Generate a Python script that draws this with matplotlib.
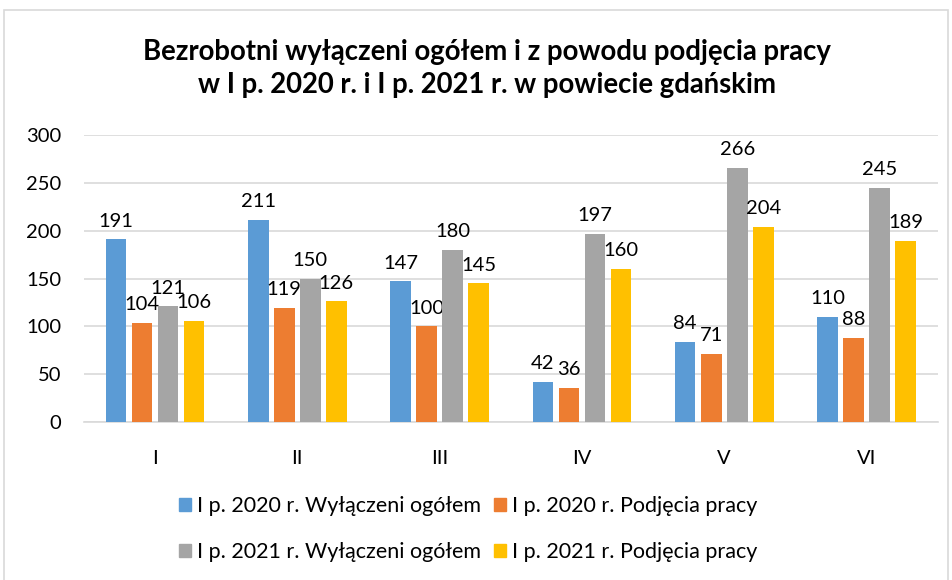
import numpy as np
import matplotlib
matplotlib.use('Agg')
import matplotlib.pyplot as plt
from matplotlib.patches import Rectangle, Patch

plt.rcParams['font.family'] = ['Lato', 'DejaVu Sans']

months = ['I', 'II', 'III', 'IV', 'V', 'VI']
wyl_2020 = [191, 211, 147, 42, 84, 110]
podj_2020 = [104, 119, 100, 36, 71, 88]
wyl_2021 = [121, 150, 180, 197, 266, 245]
podj_2021 = [106, 126, 145, 160, 204, 189]

labels = ['I p. 2020 r. Wyłączeni ogółem', 'I p. 2020 r. Podjęcia pracy',
          'I p. 2021 r. Wyłączeni ogółem', 'I p. 2021 r. Podjęcia pracy']
colors = ['#5B9BD5', '#ED7D31', '#A5A5A5', '#FFC000']
series = [wyl_2020, podj_2020, wyl_2021, podj_2021]

fig = plt.figure(figsize=(9.52, 5.8), dpi=100)
ax = fig.add_axes([0.088, 0.2724, 0.897, 0.4948])

x = np.arange(len(months))
slot = 0.183
width = 0.145
for i, (vals, c) in enumerate(zip(series, colors)):
    pos = x + (i - 1.5) * slot
    ax.bar(pos, vals, width, color=c, zorder=3)
    for p, v in zip(pos, vals):
        ax.annotate(str(v), (p, v), xytext=(0, 7), textcoords='offset points',
                    ha='center', va='bottom', fontsize=14.5, color='#000000')

ax.set_xlim(-0.5, len(months) - 0.5)
ax.set_ylim(0, 300)
ax.set_yticks(range(0, 301, 50))
ax.set_xticks(x)
ax.set_xticklabels(months)
ax.tick_params(axis='both', length=0, labelsize=14.5)
ax.tick_params(axis='y', pad=16)
ax.tick_params(axis='x', pad=20)
ax.grid(axis='y', color='#D9D9D9', linewidth=1.2, zorder=0)
for s in ['top', 'right', 'left']:
    ax.spines[s].set_visible(False)
ax.spines['bottom'].set_color('#D9D9D9')
ax.spines['bottom'].set_linewidth(1.2)

fig.text(0.512, 0.882, 'Bezrobotni wyłączeni ogółem i z powodu podjęcia pracy\n'
         'w I p. 2020 r. i I p. 2021 r. w powiecie gdańskim',
         ha='center', va='center', fontsize=19.8, fontweight='bold',
         linespacing=1.35)

order = [0, 2, 1, 3]
handles = [Patch(color=colors[i]) for i in order]
fig.legend(handles, [labels[i] for i in order], ncol=2,
           loc='center', bbox_to_anchor=(0.492, 0.088), frameon=False,
           fontsize=15.5, handlelength=0.55, handleheight=0.55,
           handletextpad=0.3, columnspacing=0.6, labelspacing=1.2)

fig.patches.append(Rectangle((4 / 952, -0.01), 944 / 952, 1 - 10 / 580 + 0.01,
                             transform=fig.transFigure, fill=False,
                             edgecolor='#D9D9D9', linewidth=1.2))

fig.savefig('out.png', dpi=100)
